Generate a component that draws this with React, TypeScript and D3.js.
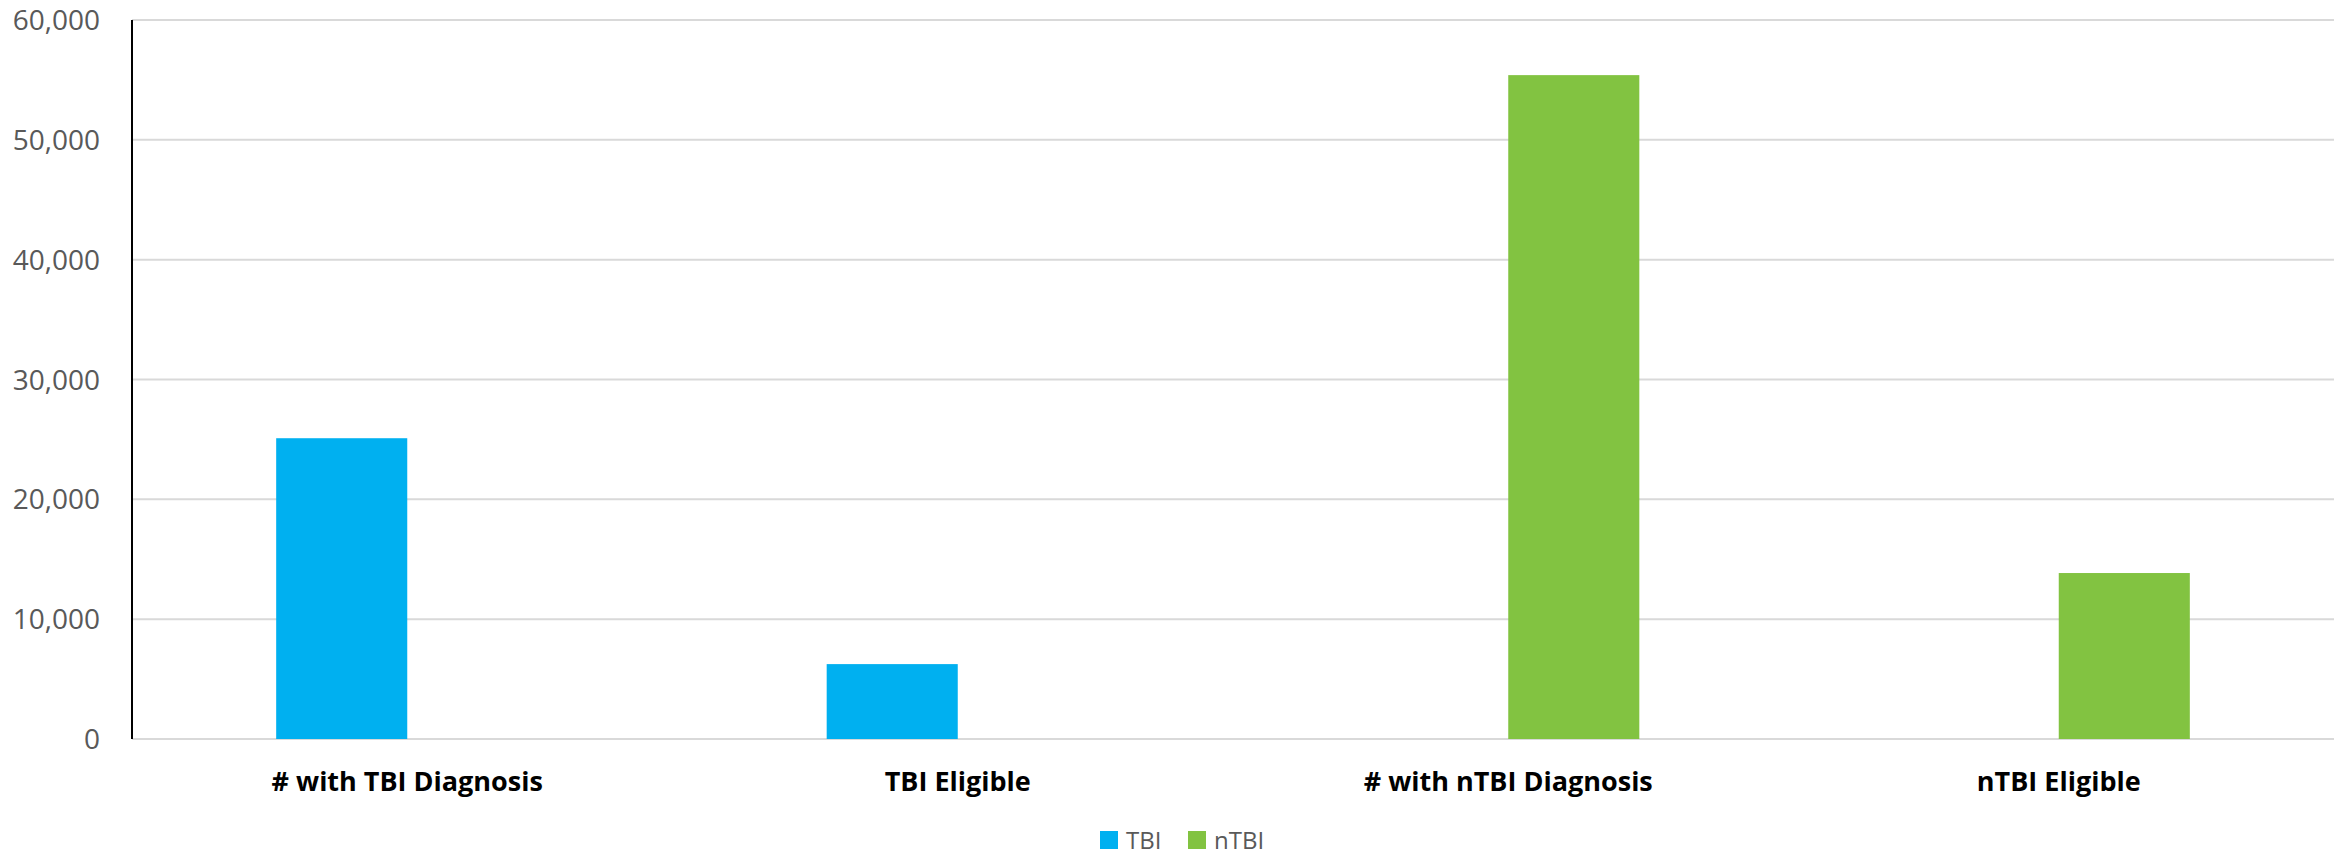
import { useMemo } from "react"
import * as d3 from "d3"

const categories = ["# with TBI Diagnosis", "TBI Eligible", "# with nTBI Diagnosis", "nTBI Eligible"]
const seriesNames = ["TBI", "nTBI"]
const tbiValues = [25100, 6250, 0, 0]
const ntbiValues = [0, 0, 55400, 13850]
const yTicks = [0, 10000, 20000, 30000, 40000, 50000, 60000]
const colors = ["#00B0F0", "#82C341"]

const width = 2348
const height = 858
const margin = { top: 20, right: 14, bottom: 119, left: 132 }

export default function App() {
  const innerW = width - margin.left - margin.right
  const innerH = height - margin.top - margin.bottom

  const x0 = useMemo(() => d3.scaleBand<string>().domain(categories).range([0, innerW]), [innerW])
  // Excel style gap width 220%
  const bw = x0.bandwidth()
  const barW = bw / (2 + 2.2)
  const x1 = d3
    .scaleBand<string>()
    .domain(seriesNames)
    .range([(bw - 2 * barW) / 2, (bw + 2 * barW) / 2])
  const y = d3.scaleLinear().domain([0, 60000]).range([innerH, 0])
  const fmt = d3.format(",")

  const series = [tbiValues, ntbiValues]

  return (
    <svg
      width={width}
      height={height}
      style={{ position: "absolute", left: 0, top: 0, background: "#fff" }}
    >
      <g transform={`translate(${margin.left},${margin.top})`}>
        {yTicks.map((t) => (
          <g key={t}>
            <line x1={0} x2={innerW} y1={y(t)} y2={y(t)} stroke="#d9d9d9" strokeWidth={2} />
            <text
              x={-32}
              y={y(t)}
              dy="0.36em"
              textAnchor="end"
              fill="#595959"
              fontFamily="'Open Sans', sans-serif"
              fontSize={28}
            >
              {fmt(t)}
            </text>
          </g>
        ))}

        {categories.map((c, i) => (
          <g key={c} transform={`translate(${x0(c)},0)`}>
            {seriesNames.map((s, j) =>
              series[j][i] > 0 ? (
                <rect
                  key={s}
                  x={x1(s)}
                  y={y(series[j][i])}
                  width={x1.bandwidth()}
                  height={innerH - y(series[j][i])}
                  fill={colors[j]}
                />
              ) : null,
            )}
            <text
              x={bw / 2}
              y={innerH + 52}
              textAnchor="middle"
              fill="#000"
              fontFamily="'Open Sans', sans-serif"
              fontWeight="bold"
              fontSize={27}
            >
              {c}
            </text>
          </g>
        ))}

        <line x1={0} x2={0} y1={0} y2={innerH} stroke="#000" strokeWidth={2} />
      </g>

      <g transform="translate(1100,831)">
        {seriesNames.map((s, i) => (
          <g key={s} transform={`translate(${i * 88},0)`}>
            <rect width={18} height={18} fill={colors[i]} />
            <text
              x={26}
              y={18}
              fill="#595959"
              fontFamily="'Open Sans', sans-serif"
              fontSize={24}
            >
              {s}
            </text>
          </g>
        ))}
      </g>
    </svg>
  )
}
